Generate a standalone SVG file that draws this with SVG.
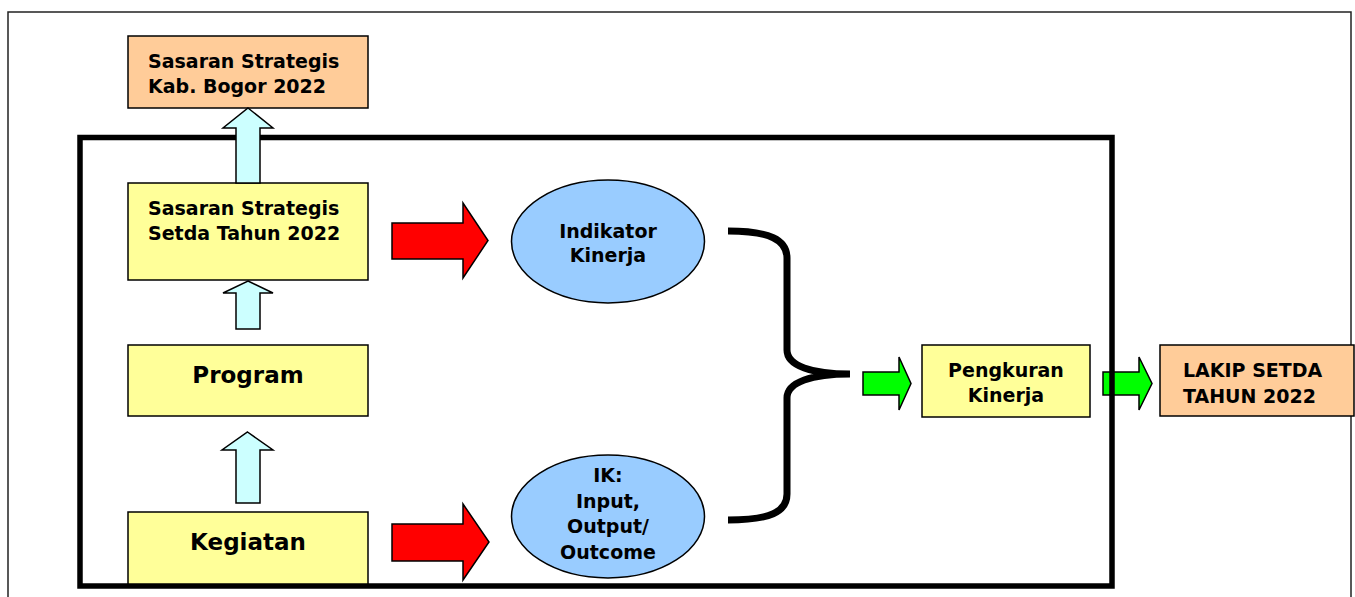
<svg xmlns="http://www.w3.org/2000/svg" width="1355" height="597" viewBox="0 0 1355 597">
<style>
text{font-family:"DejaVu Sans","Verdana",sans-serif;font-weight:bold;fill:#000;font-size:19px}
.c{text-anchor:middle}
.big{font-size:23px}
.orange{fill:#FFCC99;stroke:#000;stroke-width:1.5}
.yellow{fill:#FFFF99;stroke:#000;stroke-width:1.5}
.ell{fill:#99CCFF;stroke:#000;stroke-width:1.5}
.up{fill:#CCFFFF;stroke:#000;stroke-width:1.5;stroke-linejoin:miter}
.red{fill:#FF0000;stroke:#000;stroke-width:1.5}
.green{fill:#00FF00;stroke:#000;stroke-width:1.5}
</style>
<rect x="8" y="12" width="1343" height="600" fill="#fff" stroke="#222" stroke-width="1.5"/>
<g id="connectors-under">
<path class="green" d="M1103,372 H1139 V357 L1152,383.5 L1139,410 V395 H1103 Z"/>
</g>
<g id="node-kab">
<rect class="orange" x="128" y="36" width="240" height="72"/>
<text x="148" y="68">Sasaran Strategis</text>
<text x="148" y="93">Kab. Bogor 2022</text>
</g>
<g id="node-setda">
<rect class="yellow" x="128" y="183" width="240" height="97"/>
<text x="148" y="215">Sasaran Strategis</text>
<text x="148" y="240">Setda Tahun 2022</text>
</g>
<g id="node-program">
<rect class="yellow" x="128" y="345" width="240" height="71"/>
<text class="c big" x="248" y="383">Program</text>
</g>
<g id="node-kegiatan">
<rect class="yellow" x="128" y="512" width="240" height="74"/>
<text class="c big" x="248" y="550">Kegiatan</text>
</g>
<rect id="frame" x="80" y="137.5" width="1032" height="448.5" fill="none" stroke="#000" stroke-width="5.5"/>
<g id="node-indikator">
<ellipse class="ell" cx="608" cy="241.5" rx="96.5" ry="61.5"/>
<text class="c" x="608" y="238">Indikator</text>
<text class="c" x="608" y="262">Kinerja</text>
</g>
<g id="node-ik">
<ellipse class="ell" cx="608" cy="516.5" rx="96.5" ry="61.5"/>
<text class="c" x="608" y="482">IK:</text>
<text class="c" x="608" y="508">Input,</text>
<text class="c" x="608" y="533">Output/</text>
<text class="c" x="608" y="559">Outcome</text>
</g>
<g id="node-pengukuran">
<rect class="yellow" x="922" y="345" width="168" height="72"/>
<text class="c" x="1006" y="377">Pengkuran</text>
<text class="c" x="1006" y="402">Kinerja</text>
</g>
<g id="node-lakip">
<rect class="orange" x="1160" y="345" width="194" height="71"/>
<text x="1183" y="377">LAKIP SETDA</text>
<text x="1183" y="403">TAHUN 2022</text>
</g>
<g id="connectors">
<path class="up" d="M248,108 L273,128 H260 V183 H236 V128 H223 Z"/>
<path class="up" d="M248,281 L273,293 H260 V329 H236 V293 H223 Z"/>
<path class="up" d="M247.5,432 L273,450 H260 V503 H236 V450 H222 Z"/>
<path class="red" d="M392,223 H463 V203 L488,240.5 L463,278 V259 H392 Z"/>
<path class="red" d="M392,524 H463 V504 L489,542 L463,580 V561 H392 Z"/>
<path d="M728,231 C770,231 787,240 787,258 V350 C787,366 812,374 850,374 C812,374 787,382 787,398 V494 C787,512 770,520 728,520" fill="none" stroke="#000" stroke-width="7"/>
<path class="green" d="M863,372 H899 V357 L911,383.5 L899,410 V395 H863 Z"/>
</g>
</svg>
